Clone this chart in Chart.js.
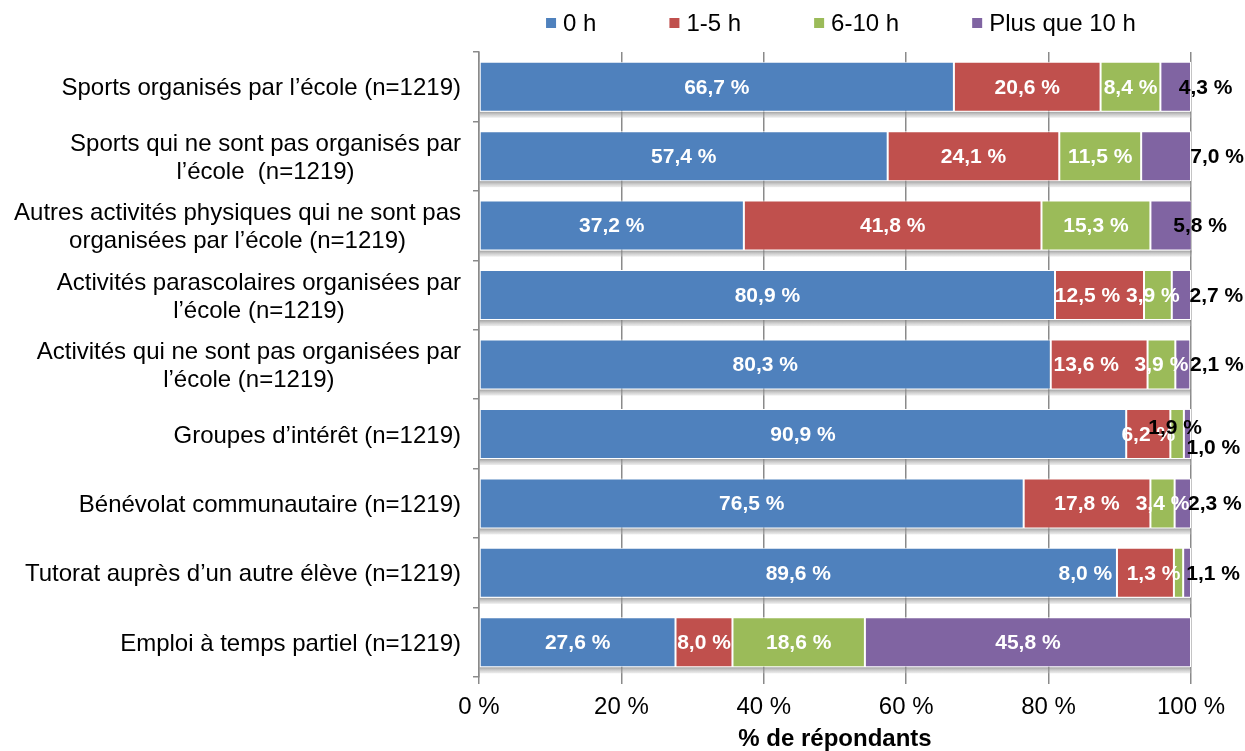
<!DOCTYPE html>
<html><head><meta charset="utf-8">
<script src="https://cdn.jsdelivr.net/npm/chart.js@4.4.1/dist/chart.umd.min.js"></script>
<style>html,body{margin:0;padding:0;background:#fff;}#wrap{width:1245px;height:751px;}</style>
</head><body><div id="wrap"><canvas id="c" width="1245" height="751"></canvas></div>
<script>
const categories = [
  ["Sports organisés par l’école (n=1219)"],
  ["Sports qui ne sont pas organisés par", "l’école  (n=1219)"],
  ["Autres activités physiques qui ne sont pas", "organisées par l’école (n=1219)"],
  ["Activités parascolaires organisées par", "l’école (n=1219)"],
  ["Activités qui ne sont pas organisées par", "l’école (n=1219)"],
  ["Groupes d’intérêt (n=1219)"],
  ["Bénévolat communautaire (n=1219)"],
  ["Tutorat auprès d’un autre élève (n=1219)"],
  ["Emploi à temps partiel (n=1219)"]
];
const seriesNames = ["0 h", "1-5 h", "6-10 h", "Plus que 10 h"];
const h0      = [66.7, 57.4, 37.2, 80.9, 80.3, 90.9, 76.5, 89.6, 27.6];
const h1to5   = [20.6, 24.1, 41.8, 12.5, 13.6, 6.2, 17.8, 8.0, 8.0];
const h6to10  = [8.4, 11.5, 15.3, 3.9, 3.9, 1.9, 3.4, 1.3, 18.6];
const h10plus = [4.3, 7.0, 5.8, 2.7, 2.1, 1.0, 2.3, 1.1, 45.8];
const xTickValues = [0, 20, 40, 60, 80, 100];
const axisTitle = "% de répondants";

const COLORS = ["#4F81BD", "#C0504D", "#9BBB59", "#8064A2"];
const FONT = "'Liberation Sans', Arial, sans-serif";
const FS = 24;
// label adjustments (dataset,index) -> offsets / dark text
const labelAdjust = {
  "3,0": {dx: 30, dark: true}, "3,1": {dx: 51, dark: true}, "3,2": {dx: 29, dark: true},
  "1,3": {dx: -12}, "2,3": {dx: -5}, "3,3": {dx: 35, dark: true},
  "1,4": {dx: -13}, "3,4": {dx: 34, dark: true},
  "2,5": {dx: -2, dy: -7, dark: true}, "3,5": {dx: 26, dy: 13, dark: true},
  "3,6": {dx: 32, dark: true},
  "1,7": {dx: -60}, "2,7": {dx: -25}, "3,7": {dx: 26, dark: true}
};
const fmt = v => v.toFixed(1).replace('.', ',') + ' %';

const shadowPlugin = {
  id: 'shadow',
  beforeDatasetsDraw(chart) {
    const ctx = chart.ctx;
    const first = chart.getDatasetMeta(0).data;
    const last = chart.getDatasetMeta(chart.data.datasets.length - 1).data;
    ctx.save();
    ctx.beginPath();
    ctx.rect(chart.chartArea.left, chart.chartArea.top, chart.chartArea.right - chart.chartArea.left + 2, chart.chartArea.bottom - chart.chartArea.top);
    ctx.clip();
    first.forEach((el, i) => {
      const p = el.getProps(['x', 'y', 'base', 'height'], true);
      const l = last[i].getProps(['x'], true);
      const bottom = p.y + p.height / 2;
      const g = ctx.createLinearGradient(0, bottom, 0, bottom + 6);
      g.addColorStop(0, 'rgba(130,130,130,0.75)');
      g.addColorStop(1, 'rgba(200,200,200,0.35)');
      ctx.fillStyle = g;
      ctx.fillRect(p.base, bottom, l.x - p.base, 6);
    });
    ctx.restore();
  }
};

const labelsPlugin = {
  id: 'vlabels',
  afterDatasetsDraw(chart) {
    const ctx = chart.ctx;
    ctx.save();
    ctx.font = `bold 21px ${FONT}`;
    ctx.textAlign = 'center';
    ctx.textBaseline = 'middle';
    chart.data.datasets.forEach((ds, di) => {
      chart.getDatasetMeta(di).data.forEach((el, i) => {
        const p = el.getProps(['x', 'y', 'base'], true);
        const adj = labelAdjust[di + ',' + i] || {};
        const cx = (p.x + p.base) / 2 + (adj.dx || 0);
        const cy = p.y + 1 + (adj.dy || 0);
        ctx.fillStyle = adj.dark ? '#000' : '#fff';
        ctx.fillText(fmt(ds.data[i]), cx, cy);
      });
    });
    ctx.restore();
  }
};

const catLabelsPlugin = {
  id: 'catlabels',
  afterDraw(chart) {
    const ctx = chart.ctx;
    const ys = chart.scales.y;
    const right = ys.right - 18;
    ctx.save();
    ctx.font = `${FS}px ${FONT}`;
    ctx.fillStyle = '#000';
    ctx.textAlign = 'center';
    ctx.textBaseline = 'middle';
    const lh = 28;
    categories.forEach((lines, i) => {
      const cy = ys.getPixelForValue(i) + 2;
      const w = Math.max(...lines.map(s => ctx.measureText(s).width));
      const cx = right - w / 2;
      const y0 = cy - (lines.length - 1) * lh / 2;
      lines.forEach((s, k) => ctx.fillText(s, cx, y0 + k * lh));
    });
    ctx.restore();
  }
};

const legendPlugin = {
  id: 'mylegend',
  afterDraw(chart) {
    const ctx = chart.ctx;
    ctx.save();
    ctx.font = `${FS}px ${FONT}`;
    ctx.textBaseline = 'middle';
    const box = 10, gapText = 7, itemGap = 73;
    const widths = seriesNames.map(s => box + gapText + ctx.measureText(s).width);
    const total = widths.reduce((a, b) => a + b, 0) + itemGap * (widths.length - 1);
    const ca = chart.chartArea;
    let x = (ca.left + ca.right) / 2 - total / 2 + 6;
    const y = 23;
    seriesNames.forEach((s, i) => {
      ctx.fillStyle = COLORS[i];
      ctx.fillRect(x, y - box / 2, box, box);
      ctx.fillStyle = '#000';
      ctx.fillText(s, x + box + gapText, y + 1);
      x += widths[i] + itemGap;
    });
    ctx.restore();
  }
};

const seriesData = [h0, h1to5, h6to10, h10plus];
new Chart(document.getElementById('c'), {
  type: 'bar',
  data: {
    labels: categories.map(c => c.join(' ')),
    datasets: seriesNames.map((n, i) => ({
      label: n, data: seriesData[i], backgroundColor: COLORS[i],
      borderColor: '#ffffff', borderWidth: 1, borderSkipped: false,
      barPercentage: 0.72, categoryPercentage: 1.0
    }))
  },
  options: {
    indexAxis: 'y', responsive: false, animation: false,
    layout: {padding: {top: 52, right: 54, left: 0, bottom: 0}},
    plugins: {legend: {display: false}, tooltip: {enabled: false}},
    scales: {
      x: {
        stacked: true, min: 0, max: 100,
        afterBuildTicks: s => { s.ticks = xTickValues.map(v => ({value: v})); },
        grid: {color: '#8a8a8a', lineWidth: 1.5, tickLength: 7, drawTicks: true},
        border: {display: false},
        ticks: {callback: v => v + ' %', font: {size: FS, family: FONT}, color: '#000', padding: 9, maxRotation: 0, autoSkip: false},
        title: {display: true, text: axisTitle, font: {size: FS, weight: 'bold', family: FONT, lineHeight: 1.0}, color: '#000', padding: {top: 0, bottom: 0}},
        afterFit: s => { s.height = 74; }
      },
      y: {
        stacked: true,
        grid: {drawOnChartArea: false, offset: true, tickLength: 6, color: '#8a8a8a', lineWidth: 1.5},
        border: {display: true, color: '#8a8a8a', width: 1.5},
        ticks: {display: false},
        afterFit: s => { s.width = 479; }
      }
    }
  },
  plugins: [shadowPlugin, labelsPlugin, catLabelsPlugin, legendPlugin]
});
</script></body></html>
